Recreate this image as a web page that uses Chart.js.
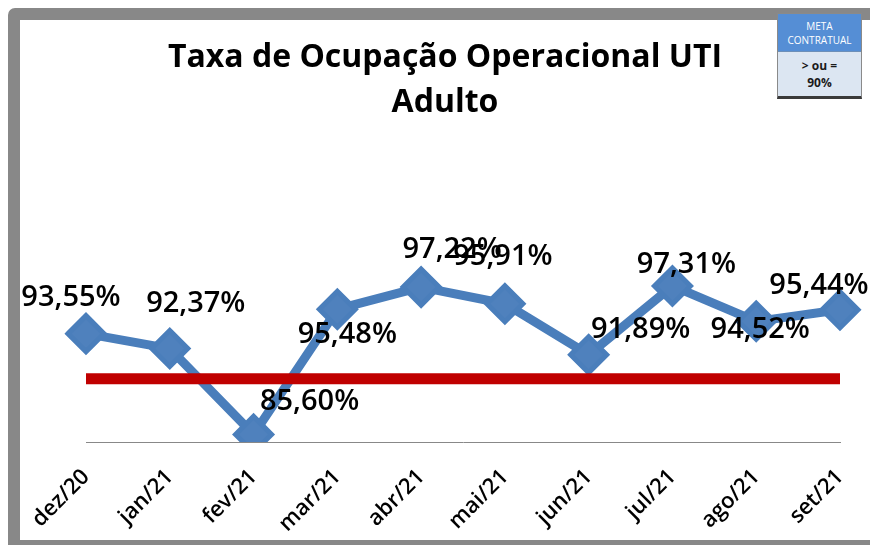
<!DOCTYPE html>
<html>
<head>
<meta charset="utf-8">
<script src="https://cdn.jsdelivr.net/npm/chart.js@4"></script>
<style>
    html, body { margin: 0; padding: 0; background: #fff; overflow: hidden; }
    body { width: 870px; height: 545px; position: relative; }
    .frame {
        position: absolute; left: 8px; top: 8px; width: 890px; height: 544px;
        box-sizing: border-box; border: 12px solid #888; border-radius: 7px;
    }
    .chart-wrap { position: absolute; left: 20px; top: 20px; width: 850px; height: 520px; }
    .meta {
        position: absolute; left: 777px; top: 13px; width: 85px; height: 86px;
        box-sizing: border-box; border: 1px solid #8a8a8a; border-bottom: 3px solid #3a3a3a;
        font-family: "Open Sans", sans-serif; text-align: center;
    }
    .meta .head {
        height: 38px; background: #558ED5; color: #fff; font-size: 10px; line-height: 14px;
        padding-top: 5px; box-sizing: border-box; border-bottom: 1px solid #6d8fb8;
    }
    .meta .body {
        height: 44px; background: #DCE6F2; color: #1a1a1a; font-size: 12px; font-weight: bold;
        line-height: 17px; padding-top: 5px; box-sizing: border-box;
    }
</style>
</head>
<body>
<div class="frame"></div>
<div class="chart-wrap"><canvas id="ocupacaoChart"></canvas></div>
<div class="meta">
    <div class="head">META<br>CONTRATUAL</div>
    <div class="body">&gt; ou =<br>90%</div>
</div>
<script>
// Monthly values
const months = ['dez/20', 'jan/21', 'fev/21', 'mar/21', 'abr/21', 'mai/21', 'jun/21', 'jul/21', 'ago/21', 'set/21'];
const occupancy = [93.55, 92.37, 85.60, 95.48, 97.22, 95.91, 91.89, 97.31, 94.52, 95.44];
const target = [90, 90, 90, 90, 90, 90, 90, 90, 90, 90];

// Where each data label sits relative to its point (dx, dy), as in the original
const labelOffsets = [[-15, -36], [26, -45], [56, -33], [10, 26], [31, -37], [-2, -47], [52, -25], [14, -21], [4, 8], [-21, -24]];

const valueLabels = {
    id: 'valueLabels',
    afterDatasetsDraw(chart) {
        const ctx = chart.ctx;
        const meta = chart.getDatasetMeta(1);
        ctx.save();
        ctx.font = '600 29px "Open Sans"';
        ctx.fillStyle = '#000';
        ctx.textAlign = 'center';
        ctx.textBaseline = 'middle';
        meta.data.forEach((pt, i) => {
            const txt = occupancy[i].toFixed(2).replace('.', ',') + '%';
            const off = labelOffsets[i];
            ctx.fillText(txt, pt.x + off[0], pt.y + off[1]);
        });
        ctx.restore();
    }
};

const ctx = document.getElementById('ocupacaoChart').getContext('2d');
new Chart(ctx, {
    type: 'line',
    data: {
        labels: months,
        datasets: [{
            label: 'Meta',
            data: target,
            borderColor: '#C00000',
            borderWidth: 11,
            pointRadius: 0,
            borderCapStyle: 'butt'
        }, {
            label: 'Taxa de Ocupação',
            data: occupancy,
            borderColor: '#4A7EBB',
            borderWidth: 9,
            pointStyle: 'rectRot',
            pointRadius: 18,
            pointBorderWidth: 5,
            pointBackgroundColor: '#4F81BD',
            pointBorderColor: '#4A7EBB',
            borderJoinStyle: 'round'
        }]
    },
    options: {
        responsive: true,
        maintainAspectRatio: false,
        animation: false,
        events: [],
        layout: { padding: 0 },
        plugins: {
            legend: { display: false },
            tooltip: { enabled: false },
            title: {
                display: true,
                text: ['Taxa de Ocupação Operacional UTI', 'Adulto'],
                color: '#000',
                font: { family: '"Open Sans"', size: 32, weight: 'bold', lineHeight: 1.42 },
                padding: { top: 15, bottom: 126 }
            }
        },
        scales: {
            y: {
                display: false,
                min: 85,
                max: 100
            },
            x: {
                offset: false,
                grid: { display: false, drawTicks: false },
                border: { display: true, color: '#888', width: 1 },
                ticks: {
                    color: '#000',
                    font: { family: '"Open Sans"', size: 22, weight: '600' },
                    minRotation: 45,
                    maxRotation: 45,
                    padding: 22,
                    autoSkip: false
                },
                afterFit(scale) {
                    scale.height = 98;
                    scale.paddingLeft = 66;
                    scale.paddingRight = 30;
                }
            }
        }
    },
    plugins: [valueLabels]
});
</script>
</body>
</html>
